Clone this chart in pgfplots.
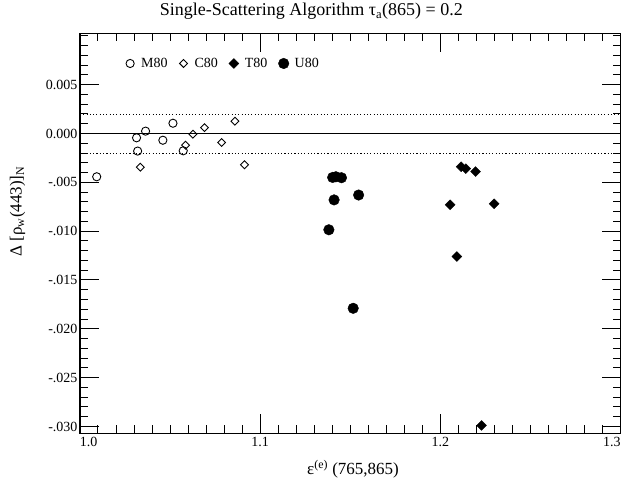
\documentclass[border=0pt]{standalone}
\usepackage{pgfplots}
\pgfplotsset{compat=1.18}
\usepackage{fontspec}
\setmainfont{Liberation Serif}
\begin{document}
\begin{tikzpicture}
\begin{axis}[
  scale only axis, width=541pt, height=400pt,
  at={(0pt,0pt)}, anchor=south west,
  xmin=1.0, xmax=1.3, ymin=-0.0307, ymax=0.01024,
  clip=false,
  scaled x ticks=false, scaled y ticks=false,
  xtick={1.0,1.1,1.2,1.3},
  xticklabels={\makebox[0pt][l]{1.0},1.1,1.2,\makebox[0pt][r]{1.3}},
  minor xtick={1.00,1.01,...,1.30},
  ytick={-0.030,-0.025,-0.020,-0.015,-0.010,-0.005,0,0.005},
  yticklabels={-.030,-.025,-.020,-.015,-.010,-.005,0.000,0.005},
  minor ytick={-0.030,-0.029,...,0.010},
  major tick length=19pt, minor tick length=8pt,
  every tick/.append style={black, line width=1pt},
  axis line style={line width=1.5pt},
  tick label style={font=\fontsize{14}{16}\selectfont},
  yticklabel style={xshift=1pt},
  title={Single-Scattering Algorithm τ\textsubscript{a}(865) = 0.2},
  title style={at={(0.428,1.04)}, anchor=center, font=\fontsize{18}{20}\selectfont},
  xlabel={ε\textsuperscript{(e)} (765,865)},
  xlabel style={at={(0.505,-0.09)}, anchor=center, font=\fontsize{17}{19}\selectfont},
  ylabel={Δ [ρ\textsubscript{w}(443)]\textsubscript{N}},
  ylabel style={at={(-0.1155,0.555)}, anchor=center, font=\fontsize{17}{19}\selectfont},
  legend columns=-1,
  legend style={draw=none, fill=none, at={(0.0832,0.925)}, anchor=west, inner sep=0pt,
    nodes={inner sep=0pt},
    font=\fontsize{14}{16}\selectfont,
    /tikz/every even column/.append style={column sep=11pt}},
  legend image code/.code={\path[draw=none,fill=none] (-5pt,0pt) -- (11pt,0pt); \draw[#1] plot coordinates {(0pt,0pt)};},
]
\addplot[forget plot, line width=1.3pt] coordinates {(1.0,0) (1.3,0)};
\addplot[forget plot, line width=0.7pt, dash pattern=on 0.9pt off 2.4pt] coordinates {(1.0,0.002) (1.3,0.002)};
\addplot[forget plot, line width=0.9pt, dash pattern=on 1.2pt off 2.1pt] coordinates {(1.0,-0.002) (1.3,-0.002)};

% M80 open circles
\addplot[only marks, mark=o, mark size=4.1pt, line width=0.9pt, black] coordinates {
(1.0093,-0.00443) (1.0314,-0.00044) (1.0320,-0.0018) (1.0364,0.00024)
(1.0460,-0.00069) (1.0516,0.00105) (1.0573,-0.00177)};
\addlegendentry{M80}
% C80 open diamonds
\addplot[only marks, mark=square, mark size=2.8pt, line width=0.9pt, black, mark options={rotate=45}] coordinates {
(1.0335,-0.00345) (1.0586,-0.0012) (1.0627,-0.00007) (1.0691,0.0006)
(1.0786,-0.00092) (1.0860,0.00126) (1.0913,-0.0032)};
\addlegendentry{C80}
% T80 filled diamonds
\addplot[only marks, mark=square*, mark size=3.5pt, black, fill=black, mark options={rotate=45}] coordinates {
(1.2115,-0.0034) (1.2141,-0.0036) (1.2195,-0.0039) (1.2054,-0.0073)
(1.2298,-0.0072) (1.2091,-0.0126) (1.2228,-0.0299)};
\addlegendentry{T80}
% U80 filled circles
\addplot[only marks, mark=*, mark size=5.3pt, black, fill=black] coordinates {
(1.1402,-0.0045) (1.1420,-0.00443) (1.1451,-0.00453) (1.1410,-0.0068)
(1.1546,-0.0063) (1.1381,-0.00986) (1.1516,-0.0179)};
\addlegendentry{U80}
\end{axis}
\path (-80pt,-51pt) rectangle (544pt,430pt);
\end{tikzpicture}
\end{document}
